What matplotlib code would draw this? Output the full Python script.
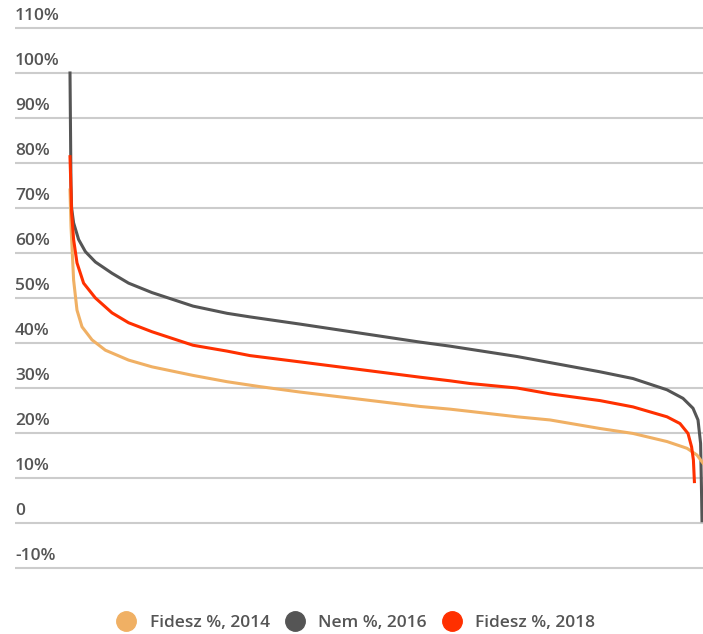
import matplotlib.pyplot as plt
from matplotlib.lines import Line2D

# settlements ranked by share (rank position), share in percent
rank_nem16 = [0, 5, 8, 18, 43, 77, 127, 210, 293, 410, 615, 785, 900, 1150, 1450,
              1750, 1900, 2235, 2650, 2815, 2985, 3065, 3115, 3140, 3153, 3158, 3160]
nem16 = [100, 75, 70, 66.7, 63, 60.3, 58, 55.5, 53.3, 51.2, 48.2, 46.6, 45.8, 44.2, 42.2,
         40.2, 39.3, 37.0, 33.6, 32.1, 29.6, 27.7, 25.5, 22.9, 17.7, 6, 0.5]

rank_fid18 = [0, 5, 8, 18, 35, 68, 127, 210, 293, 410, 615, 785, 900, 1150, 1450, 1750,
              1900, 2000, 2235, 2400, 2650, 2815, 2985, 3050, 3090, 3108, 3117, 3122]
fid18 = [81.4, 74, 69, 63, 57.8, 53.3, 50, 46.7, 44.5, 42.5, 39.5, 38.2, 37.2, 35.8, 34.1, 32.4,
         31.6, 31.0, 30.0, 28.7, 27.2, 25.8, 23.6, 22.1, 19.9, 16.9, 14, 9.2]

rank_fid14 = [0, 5, 10, 18, 35, 60, 110, 177, 293, 410, 615, 785, 950, 1150, 1450, 1750,
              1900, 2000, 2235, 2400, 2650, 2815, 2985, 3085, 3135, 3165]
fid14 = [74, 66, 61.4, 54, 47.3, 43.6, 40.7, 38.4, 36.2, 34.7, 32.8, 31.4, 30.3, 29.1, 27.5, 25.9,
         25.3, 24.8, 23.6, 22.9, 21.0, 19.9, 18.1, 16.6, 15.1, 13.3]

ticks = [110, 100, 90, 80, 70, 60, 50, 40, 30, 20, 10, 0, -10]
tick_labels = ["110%", "100%", "90%", "80%", "70%", "60%", "50%", "40%", "30%", "20%", "10%", "0", "-10%"]

labels = ["Fidesz %, 2014", "Nem %, 2016", "Fidesz %, 2018"]
colors = ["#F0B064", "#555555", "#FF3000"]

plt.rcParams['font.family'] = ['Open Sans', 'DejaVu Sans']

fig = plt.figure(figsize=(7.03, 6.34), dpi=100)
ax = fig.add_axes([15 / 703, 61.5 / 634, 688 / 703, 549 / 634])

for t, lab in zip(ticks, tick_labels):
    ax.axhline(t, color="#cccccc", lw=1.5, zorder=1)
    ax.annotate(lab, xy=(0, t), xycoords=("axes fraction", "data"),
                xytext=(0, 3), textcoords="offset points", ha="left", va="bottom",
                fontsize=12.5, fontweight="semibold", color="#555555")

ax.plot(rank_nem16, nem16, color=colors[1], lw=2.2, zorder=3)
ax.plot(rank_fid14, fid14, color=colors[0], lw=2.2, zorder=4)
ax.plot(rank_fid18, fid18, color=colors[2], lw=2.2, zorder=5)

ax.set_xlim(-275, 3165)
ax.set_ylim(-11, 111)
ax.axis("off")

handles = [Line2D([], [], ls="none", marker="o", markersize=14, color=c) for c in colors]
fig.legend(handles, labels, loc="center", bbox_to_anchor=(0.507, 11.5 / 634), ncol=3,
           frameon=False, prop={"size": 12.5, "weight": "semibold"}, labelcolor="#555555",
           handlelength=1.0, handletextpad=0.85, columnspacing=0.95)

fig.savefig("out.png", dpi=100)
